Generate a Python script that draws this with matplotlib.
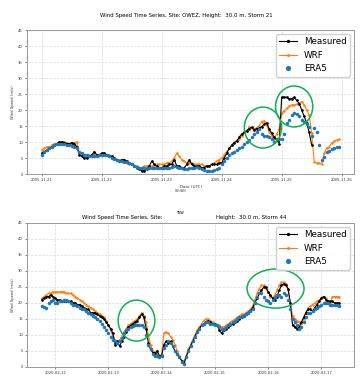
import numpy as np
import pandas as pd
import matplotlib
matplotlib.use("Agg")
import matplotlib.pyplot as plt
import matplotlib.dates as mdates
from matplotlib.patches import Ellipse

# ---------------- Storm 21 (OWEZ) ----------------
s21_start = "2005-11-21 00:00"
s21_meas = [6.5, 7.0, 7.5, 8.0, 8.5, 9.0, 9.5, 10.0, 10.0, 9.8, 9.5, 9.5, 9.8, 9.5, 8.5, 6.0, 5.5, 5.0, 5.0, 5.5, 6.0, 7.0, 6.0, 6.0,
            6.5, 6.5, 6.0, 5.5, 5.5, 5.0, 4.5, 4.0, 4.5, 4.5, 4.0, 3.5, 3.0, 2.5, 2.0, 1.5, 1.0, 1.0, 1.5, 2.5, 4.0, 3.0, 2.5, 2.0,
            2.0, 2.5, 2.5, 3.0, 3.0, 4.5, 2.5, 2.5, 2.0, 2.0, 3.0, 4.5, 3.0, 2.5, 2.5, 2.5, 2.0, 2.0, 2.5, 2.5, 3.0, 3.0, 3.0, 3.5,
            3.5, 5.0, 6.5, 8.0, 9.0, 9.8, 10.2, 11.5, 12.5, 13.0, 13.5, 14.2, 14.6, 13.8, 14.2, 14.3, 14.8, 15.5, 16.0, 14.0, 12.8, 11.5, 10.6, 9.5,
            24.0, 24.0, 24.0, 23.5, 23.5, 24.0, 23.0, 22.0, 20.0, 18.0, 16.0, 13.0, 9.0]
s21_wrf = [7.5, 8.0, 8.5, 8.5, 9.0, 9.5, 9.5, 10.0, 10.0, 10.0, 9.8, 9.5, 9.5, 9.8, 10.0, 6.5, 6.0, 6.0, 5.8, 5.8, 6.0, 6.0, 6.0, 6.0,
           6.5, 6.5, 6.0, 6.0, 5.5, 5.0, 4.5, 4.5, 4.0, 4.0, 3.5, 3.0, 3.0, 2.5, 2.5, 2.0, 2.0, 2.5, 2.5, 2.5, 2.5, 2.5, 3.0, 3.0,
           3.0, 3.0, 3.5, 3.5, 4.0, 5.0, 6.5, 5.5, 4.5, 4.0, 3.5, 3.5, 3.5, 3.0, 3.0, 3.0, 3.0, 2.5, 2.5, 2.5, 3.0, 3.5, 4.0, 4.5,
           5.0, 6.0, 7.0, 8.0, 9.0, 10.0, 10.5, 11.0, 12.0, 13.0, 13.5, 14.6, 14.3, 14.0, 14.5, 15.0, 16.4, 16.6, 15.3, 13.2, 12.0, 11.0, 12.5, 14.0,
           19.0, 19.8, 20.5, 21.3, 21.6, 21.6, 21.8, 22.2, 22.6, 21.5, 20.0, 18.5, 12.7, 3.9, 3.5, 3.3, 3.1, 6.5, 8.0, 8.5, 9.6, 10.2, 10.6, 10.8]
s21_era5 = [6.0, 6.8, 7.5, 8.0, 8.5, 9.0, 9.5, 9.5, 9.5, 9.3, 9.0, 9.0, 8.8, 8.5, 8.0, 7.0, 6.5, 6.0, 5.8, 5.7, 5.7, 5.6, 5.6, 5.8,
            6.0, 6.0, 5.8, 5.5, 5.0, 4.8, 4.5, 4.2, 4.0, 3.8, 3.8, 3.5, 3.0, 2.5, 2.2, 2.0, 2.0, 2.0, 2.0, 2.0, 2.0, 2.0, 2.0, 2.0,
            2.0, 2.0, 2.0, 2.0, 2.2, 2.5, 2.2, 2.0, 1.8, 1.5, 1.5, 1.8, 2.0, 2.0, 2.2, 2.0, 1.5, 1.2, 1.0, 1.0, 1.0, 1.2, 1.5, 2.0,
            3.0, 4.0, 5.0, 6.0, 6.5, 7.0, 7.5, 8.0, 8.5, 9.5, 10.0, 10.5, 11.5, 12.5, 13.0, 14.0, 12.5, 12.0, 12.0, 11.5, 11.0, 10.0, 11.0, 11.0,
            11.0, 12.5, 15.8, 17.0, 18.4, 19.0, 18.8, 18.0, 17.0, 16.4, 15.5, 14.6, 12.0, 14.5, 13.0, 9.0, 4.4, 5.4, 7.0, 7.3, 7.7, 8.0, 8.5, 8.3]

# ---------------- Storm 44 (TNW) ----------------
s44_start = "2020-02-11 18:00"
s44_meas = [21.0, 21.5, 22.0, 22.0, 22.5, 22.0,
            21.5, 21.0, 21.0, 20.5, 20.5, 20.5, 20.5, 20.5, 20.0, 20.0, 19.5, 19.5, 19.0, 18.5, 18.0, 18.0, 17.0, 17.0, 17.0, 16.5, 16.0, 15.5, 15.0, 14.0,
            13.0, 12.0, 10.5, 7.0, 8.0, 6.5, 8.0, 9.5, 11.0, 12.5, 13.0, 13.5, 14.0, 14.5, 15.5, 16.5, 15.5, 12.0, 7.5, 5.5, 4.5, 4.5, 5.0, 3.5,
            3.5, 7.0, 8.0, 7.5, 8.0, 6.5, 5.0, 4.0, 3.0, 2.0, 1.0, 3.0, 5.0, 6.5, 8.0, 9.5, 11.0, 12.0, 13.0, 13.5, 14.0, 14.5, 14.0, 13.5,
            13.5, 13.0, 11.5, 10.5, 11.5, 12.0, 12.5, 13.0, 13.5, 14.0, 14.5, 15.0, 15.5, 16.0, 16.5, 17.0, 17.5, 18.5, 20.0, 21.5, 23.0, 24.0, 25.0, 25.0,
            23.5, 22.5, 21.5, 21.0, 22.0, 24.0, 25.5, 26.0, 25.5, 24.5, 20.0, 13.0, 12.5, 12.0, 12.5, 14.0, 15.5, 17.0, 18.0, 18.0, 17.5, 18.5, 19.5, 20.5,
            21.5, 22.0, 21.0, 20.5, 20.5, 20.5, 20.0, 20.0, 20.0]
s44_wrf = [21.5, 22.0, 22.5, 23.0, 23.0, 23.5,
           23.5, 23.5, 23.5, 23.5, 23.5, 23.0, 23.0, 23.0, 22.5, 22.0, 21.5, 21.0, 20.5, 20.0, 19.5, 19.0, 18.5, 18.0, 17.5, 17.0, 16.5, 16.0, 15.5, 14.5,
           13.0, 11.5, 9.5, 8.5, 8.0, 8.5, 9.5, 11.0, 12.0, 13.0, 13.5, 14.0, 14.5, 15.0, 16.0, 17.0, 16.0, 14.0, 10.0, 7.0, 5.0, 4.0, 4.0, 3.5,
           4.0, 10.5, 11.0, 10.5, 9.5, 8.5, 7.0, 5.0, 3.5, 2.0, 1.5, 3.5, 5.5, 7.0, 8.5, 10.0, 11.5, 12.5, 13.5, 14.5, 15.0, 15.0, 14.5, 14.0,
           13.5, 13.0, 13.0, 12.5, 12.5, 13.0, 13.5, 14.0, 14.5, 15.0, 15.5, 16.0, 16.5, 16.5, 17.0, 17.5, 18.0, 19.0, 21.0, 23.0, 24.5, 25.5, 25.5, 24.5,
           23.5, 22.0, 21.5, 22.5, 24.0, 25.5, 26.5, 26.5, 26.0, 24.0, 20.0, 16.0, 15.0, 14.5, 14.0, 13.5, 15.0, 17.0, 18.5, 19.0, 19.5, 20.0, 20.5, 21.0,
           21.5, 22.0, 21.5, 20.5, 20.0, 22.0, 22.0, 22.0, 22.0]
s44_era5 = [19.0, 18.8, 18.5, 20.0, 20.5, 21.0,
            20.0, 20.0, 20.5, 20.5, 21.0, 21.0, 20.5, 20.0, 19.5, 19.5, 19.0, 18.5, 18.0, 18.0, 17.5, 17.0, 16.5, 16.0, 15.5, 15.0, 14.5, 13.5, 12.5, 11.5,
            10.5, 9.5, 8.5, 8.0, 7.5, 8.0, 9.0, 10.5, 11.5, 12.0, 12.5, 12.8, 13.0, 13.0, 13.0, 13.0, 12.5, 10.0, 7.0, 5.5, 4.0, 3.5, 3.5, 3.0,
            3.5, 6.0, 7.0, 8.0, 7.5, 6.5, 5.0, 4.0, 3.0, 1.5, 1.0, 3.0, 5.0, 6.5, 8.0, 9.5, 11.0, 12.0, 13.0, 13.5, 14.0, 14.0, 13.5, 13.5,
            13.0, 13.0, 12.5, 12.0, 12.0, 12.5, 13.0, 13.5, 14.0, 14.5, 15.0, 15.5, 16.0, 16.0, 16.5, 17.0, 17.5, 18.0, 20.0, 22.0, 23.0, 23.0, 22.0, 21.0,
            20.5, 20.0, 21.0, 22.0, 22.5, 22.5, 22.0, 23.0, 22.5, 21.0, 18.0, 15.0, 14.0, 13.0, 12.0, 12.5, 14.0, 15.5, 17.0, 17.0, 17.5, 18.0, 18.5, 19.0,
            19.5, 20.0, 20.0, 20.0, 19.5, 19.5, 19.5, 19.5, 19.0]

# highlight ellipses (annotation): centre time, centre speed, width (days), height (m/s)
s21_marks = [("2005-11-24 16:30", 14.5, 0.62, 12.8), ("2005-11-25 05:00", 21.1, 0.62, 12.8)]
s44_marks = [("2020-02-13 12:40", 14.5, 0.69, 12.8), ("2020-02-16 03:20", 24.5, 1.07, 12.2)]

title21 = "Wind Speed Time Series, Site: OWEZ, Height:  30.0 m, Storm 21"
title44_a = "Wind Speed Time Series, Site: "
title44_b = "Height:  30.0 m, Storm 44"
yticks = [0, 5, 10, 15, 20, 25, 30, 35, 40, 45]

W, H = 362, 377
fig = plt.figure(figsize=(W / 100, H / 100), dpi=100)
fig.patch.set_facecolor("white")

def make_ax(rect, start, meas, wrf, era5, marks):
    ax = fig.add_axes(rect)
    t_all = pd.date_range(start, periods=len(wrf), freq="h")
    ax.plot(t_all[:len(meas)], meas, color="black", lw=0.8, marker=".", ms=1.8, label="Measured", zorder=3)
    ax.plot(t_all, wrf, color="#ff7f0e", lw=0.8, marker=".", ms=1.6, label="WRF", zorder=2)
    ax.plot(t_all[:len(era5)], era5, ls="none", marker="o", ms=2.5, color="#1f77b4",
            markeredgewidth=0, label="ERA5", zorder=4)
    ax.set_ylim(0, 45)
    ax.set_yticks(yticks)
    ax.xaxis.set_major_locator(mdates.DayLocator())
    ax.xaxis.set_major_formatter(mdates.DateFormatter("%Y-%m-%d"))
    ax.tick_params(labelsize=2.7, length=1.5, width=0.4, colors="#333333", pad=1.5)
    ax.grid(True, color="#d9d9d9", lw=0.5, ls="--")
    for sp in ax.spines.values():
        sp.set_color("#999999")
        sp.set_linewidth(0.7)
    ax.set_ylabel("Wind Speed (m/s)", fontsize=2.7, labelpad=2, color="#333333")
    for (tc, yc, wd, ht) in marks:
        e = Ellipse((mdates.date2num(pd.Timestamp(tc)), yc), wd, ht, fill=False,
                    edgecolor="#10b050", lw=1.1, zorder=5)
        ax.add_patch(e)
    leg = ax.legend(loc="upper right", fontsize=6.3, handlelength=2.0, markerscale=1.5,
                    borderaxespad=0.45, framealpha=0.9, edgecolor="#cccccc")
    leg.set_zorder(10)
    return ax

ax1 = make_ax([27 / W, 1 - 174 / H, 327 / W, 144 / H], s21_start, s21_meas, s21_wrf, s21_era5, s21_marks)
ax1.set_xlabel("Date (UTC)", fontsize=2.9, labelpad=2, color="#333333")
ax2 = make_ax([27 / W, 1 - 367 / H, 327 / W, 144 / H], s44_start, s44_meas, s44_wrf, s44_era5, s44_marks)

fig.text(186 / W, 1 - 15 / H, title21, ha="center", va="center", fontsize=3.9)
fig.text(82 / W, 1 - 217 / H, title44_a, ha="left", va="center", fontsize=3.9)
fig.text(177 / W, 1 - 213 / H, "TNW", ha="left", va="center", fontsize=2.3)
fig.text(216 / W, 1 - 217 / H, title44_b, ha="left", va="center", fontsize=3.9)
fig.text(180 / W, 1 - 191 / H, "RSHAN", ha="center", va="center", fontsize=2.3, color="#555555")

fig.savefig("out.png", dpi=100)
